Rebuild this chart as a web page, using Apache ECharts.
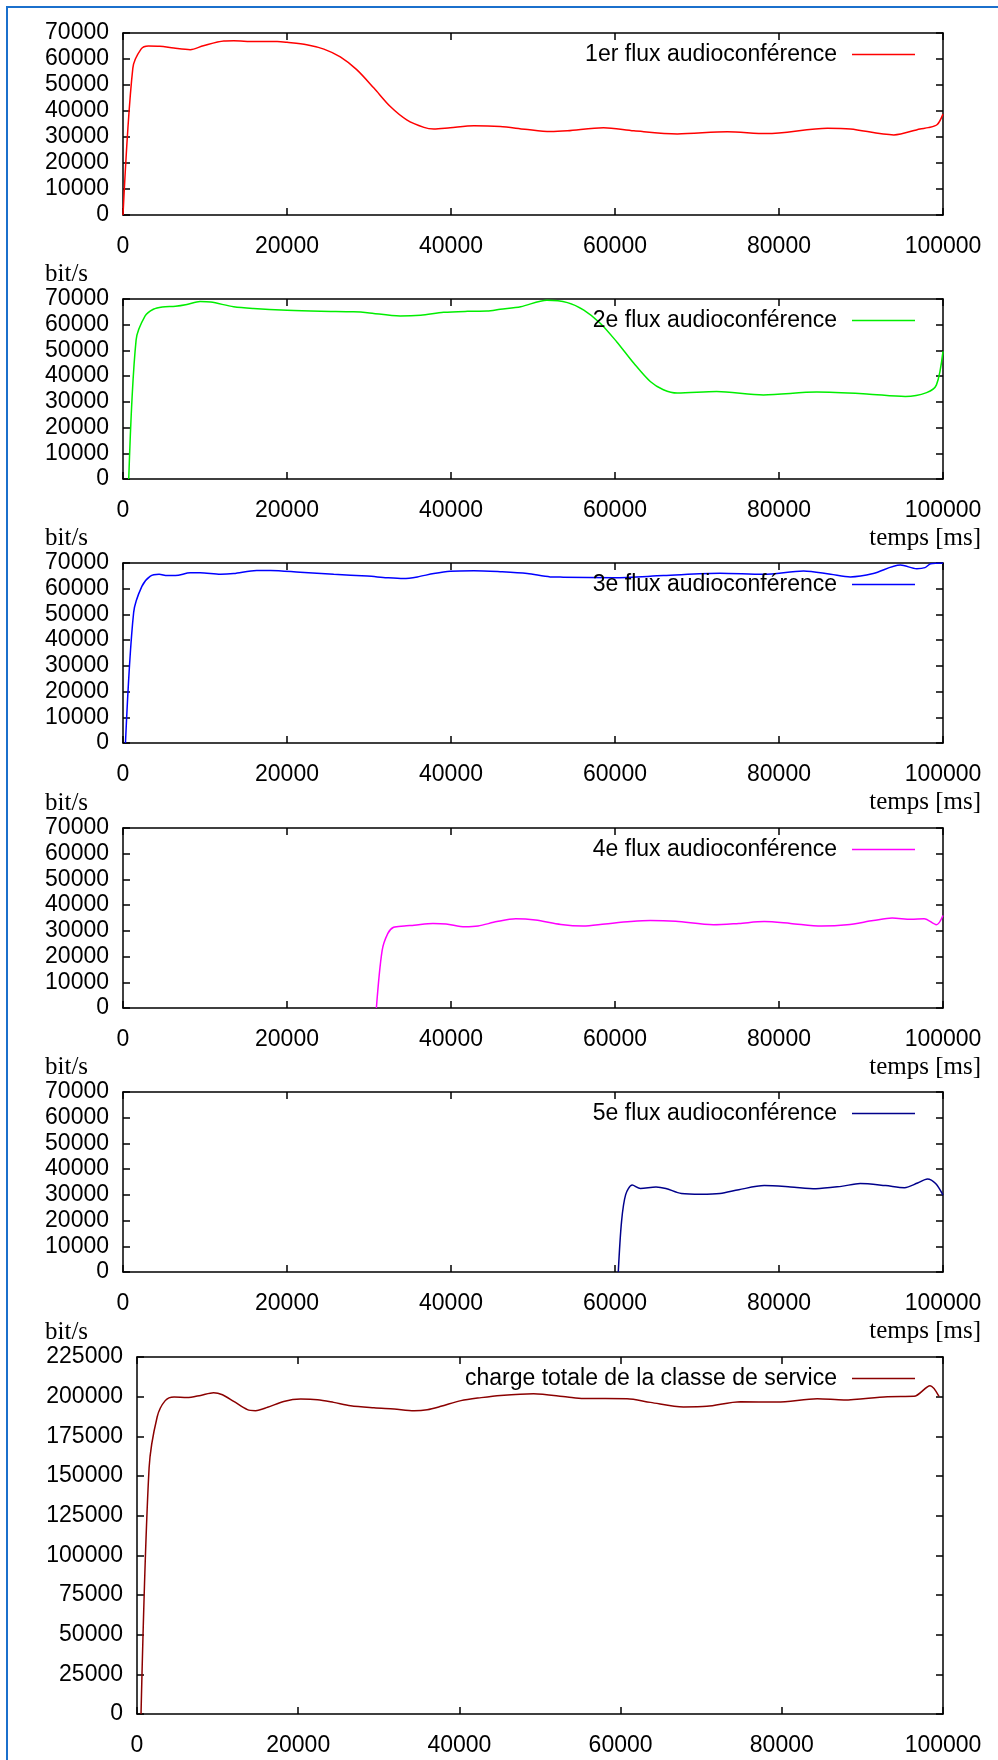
<!DOCTYPE html>
<html><head><meta charset="utf-8">
<script src="https://cdn.jsdelivr.net/npm/echarts@6/dist/echarts.min.js"></script>
<style>html,body{margin:0;padding:0;background:#fff}#c{width:998px;height:1760px}</style>
</head><body><div id="c"></div>
<script>
// ---- data ----
const seriesNames = ['1er flux audioconférence','2e flux audioconférence','3e flux audioconférence','4e flux audioconférence','5e flux audioconférence','charge totale de la classe de service'];
const seriesColors = ['#ff0000','#00ee00','#0000ff','#ff00ff','#00008b','#8b0000'];
const flux1 = [[0,0],[1200,56500],[2200,63800],[3100,65000],[4500,64900],[6200,64200],[8200,63600],[9800,65100],[12300,66900],[13500,67000],[16000,66700],[18800,66700],[20000,66400],[22400,65500],[24500,63800],[26500,60800],[28500,55900],[30600,48800],[32600,41700],[34600,36600],[36700,33700],[37900,33100],[39900,33600],[42800,34300],[46000,34000],[49000,33000],[52100,32100],[54200,32400],[58600,33600],[62300,32400],[67600,31200],[73700,32000],[78500,31300],[85900,33400],[88700,33100],[94000,30800],[97200,33100],[98200,33600],[99300,34800],[100000,38800]];
const flux2 = [[700,0],[1600,54100],[2700,63400],[3700,66000],[4800,66900],[6400,67200],[7800,67900],[9400,69000],[10700,68800],[13500,67000],[15900,66300],[20000,65600],[24100,65200],[28100,65000],[29800,64700],[33800,63400],[36300,63700],[39100,64800],[42000,65200],[44400,65300],[46000,66000],[48500,67000],[51700,69500],[54200,68600],[56200,65700],[58200,60600],[60200,53400],[62300,45000],[64300,37900],[65900,34700],[67600,33400],[72400,34000],[78100,32700],[84600,33800],[90700,33100],[95400,32100],[98000,33600],[99200,36600],[100000,49600]];
const flux3 = [[300,0],[1300,50800],[2300,60900],[3300,64800],[4400,65600],[5400,65100],[6400,65100],[8200,66200],[9400,66200],[11900,65600],[13500,65900],[16300,67100],[18000,67100],[21600,66400],[25700,65600],[29800,64900],[32200,64300],[34200,64000],[35900,64600],[37900,65900],[39900,66800],[42800,67000],[46000,66600],[49300,65900],[52100,64600],[53700,64500],[59800,64300],[65900,65100],[72800,66000],[78100,65600],[83000,66900],[86300,65600],[88700,64600],[91500,65900],[94800,69200],[96800,67800],[97800,68200],[98500,69700],[100000,70000]];
const flux4 = [[30900,0],[31600,22300],[32300,29000],[33000,31400],[34300,31900],[35500,32200],[37800,32900],[39400,32700],[41700,31600],[43300,31900],[45600,33600],[47900,34700],[50300,34200],[53400,32500],[56100,31900],[58800,32700],[61900,33600],[64300,34000],[67400,33700],[72000,32400],[75100,32900],[78200,33600],[81400,32900],[85200,31900],[88300,32400],[91500,34000],[93800,35000],[96100,34500],[97700,34700],[99200,32400],[100000,36000]];
const flux5 = [[60400,0],[60800,19700],[61300,30100],[62100,33800],[63100,32500],[65000,33100],[66200,32500],[68100,30500],[70500,30200],[72800,30500],[75100,32000],[78200,33600],[81400,33100],[84500,32400],[87600,33300],[89900,34400],[93000,33600],[95300,32800],[96900,34600],[98100,36200],[99100,34400],[100000,29900]];
const chargeTotale = [[500,0],[1500,155000],[2500,187200],[3500,197500],[4600,199800],[6200,199400],[7900,200800],[9500,202500],[10600,201200],[12000,197000],[13700,191800],[14700,191200],[16200,193300],[18200,197000],[20300,198500],[22400,198100],[24400,196400],[26500,194300],[29400,193000],[31900,192200],[34400,191200],[36000,191800],[37700,193900],[40200,197500],[42700,199400],[45100,200800],[49200,201900],[53400,199800],[55400,198900],[60800,198700],[63700,196400],[67800,193500],[70700,193900],[74900,196800],[79400,196600],[84400,198700],[87700,197900],[93100,200000],[96400,200200],[98400,206900],[99500,200200]];
const allSeries = [flux1, flux2, flux3, flux4, flux5, chargeTotale];
const yMaxes = [70000,70000,70000,70000,70000,225000];
const ySteps = [10000,10000,10000,10000,10000,25000];
const xMin = 0, xMax = 100000, xStep = 20000;
const yLabel = 'bit/s';
const xLabel = 'temps [ms]';

// ---- layout ----
const boxes = [
  {left:123, top:33, width:820, height:182},
  {left:123, top:299, width:820, height:180},
  {left:123, top:563, width:820, height:180},
  {left:123, top:828, width:820, height:180},
  {left:123, top:1092, width:820, height:180},
  {left:137, top:1357, width:806, height:357}
];
const SANS = "'Liberation Sans', Arial, sans-serif";
const SERIF = "'Liberation Serif', 'Times New Roman', serif";
const axisLine = {show:true, onZero:false, lineStyle:{color:'#000', width:1.5}};
const tick = {show:true, inside:true, length:7, lineStyle:{color:'#000', width:1.5}};
const plain = v => String(v);

const grid=[], xAxis=[], yAxis=[], series=[], legend=[], graphic=[];
boxes.forEach((b,i)=>{
  grid.push(Object.assign({outerBoundsMode:'none', containLabel:false}, b));
  const xa = {type:'value', gridIndex:i, min:xMin, max:xMax, interval:xStep, splitLine:{show:false}, axisLine, axisTick:tick};
  xAxis.push(Object.assign({}, xa, {position:'bottom', axisLabel:{fontFamily:SANS, fontSize:23, color:'#000', margin:20, formatter:plain}}));
  xAxis.push(Object.assign({}, xa, {position:'top', axisLabel:{show:false}}));
  const ya = {type:'value', gridIndex:i, min:0, max:yMaxes[i], interval:ySteps[i], splitLine:{show:false}, axisLine, axisTick:tick};
  yAxis.push(Object.assign({}, ya, {position:'left', axisLabel:{fontFamily:SANS, fontSize:23, color:'#000', margin:14, formatter:plain}}));
  yAxis.push(Object.assign({}, ya, {position:'right', axisLabel:{show:false}}));
  series.push({type:'line', name:seriesNames[i], data:allSeries[i], xAxisIndex:2*i, yAxisIndex:2*i,
    symbol:'none', smooth:0.3, color:seriesColors[i], lineStyle:{width:1.5, color:seriesColors[i]}});
  legend.push({data:[seriesNames[i]], right:83, top:b.top+10, padding:0, align:'right', icon:'rect',
    itemWidth:63, itemHeight:1.5, selectedMode:false,
    textStyle:{fontFamily:SANS, fontSize:23, color:'#000', padding:[0,10,0,0]}});
  if (i>0) graphic.push({type:'text', x:45, y:b.top-25, style:{text:yLabel, font:'25px '+SERIF, fill:'#000', textVerticalAlign:'middle'}});
  if (i>0 && i<5) graphic.push({type:'text', x:981, y:b.top+b.height+59, style:{text:xLabel, font:'25px '+SERIF, fill:'#000', textAlign:'right', textVerticalAlign:'middle'}});
});
graphic.push({type:'rect', shape:{x:6,y:6,width:992,height:2}, style:{fill:'#1b70cc'}});
graphic.push({type:'rect', shape:{x:6,y:6,width:2,height:1754}, style:{fill:'#1b70cc'}});

const chart = echarts.init(document.getElementById('c'), null, {renderer:'canvas'});
chart.setOption({animation:false, backgroundColor:'#fff', grid, xAxis, yAxis, series, legend, graphic});
</script></body></html>
